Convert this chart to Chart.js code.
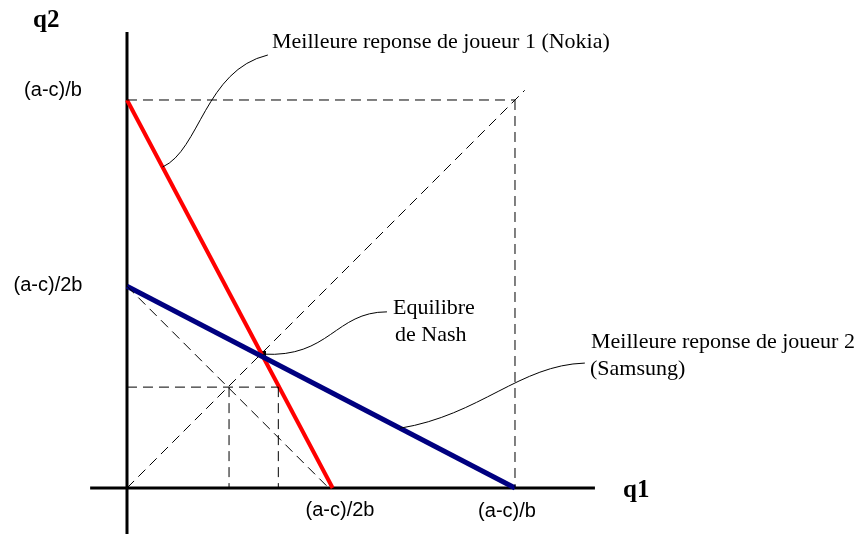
<!DOCTYPE html>
<html>
<head>
<meta charset="utf-8">
<script src="https://cdn.jsdelivr.net/npm/chart.js@4"></script>
<style>
  body { margin: 0; background: #fff; }
</style>
</head>
<body>
<canvas id="chart" width="863" height="534"></canvas>
<script>
// units: (a-c)/b = 1
const bestResponse1 = [{ x: 0, y: 1 }, { x: 0.53, y: 0 }];      // Nokia
const bestResponse2 = [{ x: 0, y: 0.52 }, { x: 1, y: 0 }];      // Samsung
const nashPoint = [{ x: 0.35, y: 0.345 }];
const diagonal = [{ x: 0, y: 0 }, { x: 1.025, y: 1.025 }];
const antiDiagonal = [{ x: 0, y: 0.52 }, { x: 0.52, y: 0 }];
const boxTop = [{ x: 0, y: 1 }, { x: 1, y: 1 }];
const boxRight = [{ x: 1, y: 1 }, { x: 1, y: 0 }];
const guideH = [{ x: 0, y: 0.26 }, { x: 0.39, y: 0.26 }];
const guideV1 = [{ x: 0.263, y: 0.26 }, { x: 0.263, y: 0 }];
const guideV2 = [{ x: 0.39, y: 0.26 }, { x: 0.39, y: 0 }];

const xTickLabels = ['(a-c)/2b', '(a-c)/b'];
const yTickLabels = ['(a-c)/b', '(a-c)/2b'];
const axisTitles = ['q1', 'q2'];
const notes = ['Meilleure reponse de joueur 1 (Nokia)', 'Equilibre', 'de Nash',
               'Meilleure reponse de joueur 2', '(Samsung)'];

const serif = "'Liberation Serif', 'Times New Roman', serif";
const sans = "'Liberation Sans', Arial, sans-serif";

function seg(data, color, width, dash) {
    return {
        data: data,
        showLine: true,
        borderColor: color,
        borderWidth: width,
        borderDash: dash || [],
        pointRadius: 0,
        fill: false
    };
}

const extras = {
    id: 'extras',
    beforeDatasetsDraw(chart) {
        const ctx = chart.ctx;
        const xs = chart.scales.x, ys = chart.scales.y;
        ctx.save();
        ctx.strokeStyle = '#000';
        ctx.lineWidth = 3;
        ctx.beginPath();
        ctx.moveTo(xs.getPixelForValue(0), ys.getPixelForValue(-0.12));
        ctx.lineTo(xs.getPixelForValue(0), ys.getPixelForValue(1.175));
        ctx.moveTo(xs.getPixelForValue(-0.095), ys.getPixelForValue(0));
        ctx.lineTo(xs.getPixelForValue(1.206), ys.getPixelForValue(0));
        ctx.stroke();
        ctx.restore();
    },
    afterDatasetsDraw(chart) {
        const ctx = chart.ctx;
        const xs = chart.scales.x, ys = chart.scales.y;
        const px = v => xs.getPixelForValue(v);
        const py = v => ys.getPixelForValue(v);

        // leader curves
        ctx.save();
        ctx.strokeStyle = '#000';
        ctx.lineWidth = 1;
        const curves = [
            [0.0917, 0.8273, 0.188, 0.871, 0.201, 1.077, 0.363, 1.116],
            [0.35, 0.345, 0.523, 0.335, 0.536, 0.454, 0.670, 0.454],
            [0.7036, 0.154, 0.910, 0.188, 1.013, 0.317, 1.180, 0.322]
        ];
        curves.forEach(c => {
            ctx.beginPath();
            ctx.moveTo(px(c[0]), py(c[1]));
            ctx.bezierCurveTo(px(c[2]), py(c[3]), px(c[4]), py(c[5]), px(c[6]), py(c[7]));
            ctx.stroke();
        });

        ctx.fillStyle = '#000';
        ctx.textBaseline = 'middle';

        // annotations
        ctx.font = '22px ' + serif;
        ctx.textAlign = 'left';
        ctx.fillText(notes[0], 272, 42);
        ctx.fillText(notes[1], 393, 308);
        ctx.fillText(notes[2], 395, 335);
        ctx.fillText(notes[3], 591, 342);
        ctx.fillText(notes[4], 590, 369);

        // axis titles
        ctx.font = 'bold 25px ' + serif;
        ctx.fillText(axisTitles[0], 623, 491);
        ctx.fillText(axisTitles[1], 33, 21);

        // tick labels
        ctx.font = '20px ' + sans;
        ctx.textAlign = 'center';
        ctx.fillText(xTickLabels[0], 340, 510);
        ctx.fillText(xTickLabels[1], 507, 511);
        ctx.fillText(yTickLabels[0], 53, 90);
        ctx.fillText(yTickLabels[1], 48, 285);
        ctx.restore();
    }
};

new Chart(document.getElementById('chart').getContext('2d'), {
    type: 'scatter',
    data: {
        datasets: [
            seg(boxTop, '#000', 1, [10, 6]),
            seg(boxRight, '#000', 1, [10, 6]),
            seg(diagonal, '#000', 1, [10, 6]),
            seg(antiDiagonal, '#000', 1, [10, 6]),
            seg(guideH, '#000', 1, [10, 6]),
            seg(guideV1, '#000', 1, [10, 6]),
            seg(guideV2, '#000', 1, [10, 6]),
            seg(bestResponse2, '#000080', 5),
            seg(bestResponse1, '#ff0000', 4),
            {
                data: nashPoint,
                pointStyle: 'rect',
                pointRadius: 4.5,
                backgroundColor: '#000',
                borderColor: '#000',
                borderWidth: 0
            }
        ]
    },
    options: {
        responsive: false,
        animation: false,
        layout: { padding: 0, autoPadding: false },
        plugins: { legend: { display: false }, tooltip: { enabled: false } },
        scales: {
            x: { type: 'linear', display: false, min: -0.32732, max: 1.89691 },
            y: { type: 'linear', display: false, min: -0.11856, max: 1.25773 }
        }
    },
    plugins: [extras]
});
</script>
</body>
</html>
